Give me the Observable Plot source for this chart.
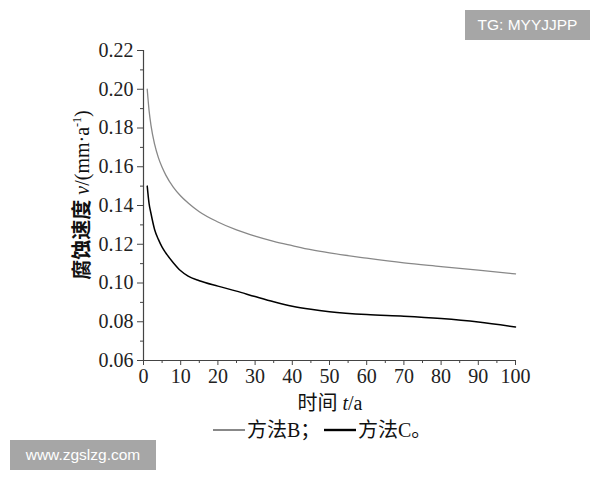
<!DOCTYPE html>
<html><head><meta charset="utf-8">
<script src="https://cdn.jsdelivr.net/npm/d3@7"></script>
<script src="https://cdn.jsdelivr.net/npm/@observablehq/plot@0.6"></script>
<style>
body{margin:0;background:#fff;}
#wrap{position:relative;width:600px;height:480px;overflow:hidden;}
.wm{position:absolute;background:#a6a6a6;color:#fff;font-family:"Liberation Sans",Arial,sans-serif;font-size:15.5px;display:flex;align-items:center;justify-content:center;}
#legend{position:absolute;left:0;top:416px;width:600px;height:28px;}
</style></head>
<body><div id="wrap"><div id="chart"></div>
<svg id="legend" width="600" height="28"></svg>
<div class="wm" style="left:465px;top:10px;width:125px;height:30px;">TG: MYYJJPP</div>
<div class="wm" style="left:10px;top:440px;width:146px;height:30px;">www.zgslzg.com</div>
</div>
<script>
const years   = [1, 1.5, 2, 3, 4, 5, 6, 8, 10, 12, 15, 20, 25, 30, 35, 40, 45, 50, 60, 70, 80, 90, 100];
const methodB = [0.200, 0.189, 0.1815, 0.1715, 0.1647, 0.1597, 0.1557, 0.1495, 0.1449, 0.1413, 0.1368, 0.1315, 0.1274, 0.1242, 0.1215, 0.1193, 0.1172, 0.1155, 0.1128, 0.1104, 0.1085, 0.1066, 0.1047];
const methodC = [0.150, 0.141, 0.136, 0.1275, 0.1225, 0.1185, 0.1155, 0.1105, 0.1063, 0.1035, 0.1012, 0.0984, 0.0958, 0.0930, 0.0903, 0.0880, 0.0864, 0.0852, 0.0837, 0.0829, 0.0817, 0.0799, 0.0773];
const xTicks = [0, 10, 20, 30, 40, 50, 60, 70, 80, 90, 100];
const xMinor = [5, 15, 25, 35, 45, 55, 65, 75, 85, 95];
const yTicks = [0.06, 0.08, 0.10, 0.12, 0.14, 0.16, 0.18, 0.20, 0.22];
const yMinor = [0.07, 0.09, 0.11, 0.13, 0.15, 0.17, 0.19, 0.21];
const seriesNames = ["方法B；", "方法C。"];
const seriesColors = ["#888888", "#000000"];

const table = years.map((t, i) => ({t, b: methodB[i], c: methodC[i]}));
const axisColor = "#444";
const serif = "'Liberation Serif', 'Times New Roman', serif";

const plot = Plot.plot({
  width: 600,
  height: 416,
  marginLeft: 143,
  marginRight: 85,
  marginTop: 50,
  marginBottom: 56,
  style: {fontFamily: serif, fontSize: "20px", color: "#222", background: "#fff"},
  x: {domain: [0, 100]},
  y: {domain: [0.06, 0.22]},
  marks: [
    Plot.axisX(xTicks, {tickSize: 5, tickPadding: 3, fontSize: 20, stroke: axisColor, label: null}),
    Plot.axisX(xMinor, {tickSize: 3, tickFormat: () => "", stroke: axisColor, label: null}),
    Plot.axisY(yTicks, {tickSize: 6, tickPadding: 4, fontSize: 20, tickFormat: d3.format(".2f"), stroke: axisColor, label: null}),
    Plot.axisY(yMinor, {tickSize: 3, tickFormat: () => "", stroke: axisColor, label: null}),
    Plot.ruleX([0], {stroke: axisColor, strokeWidth: 1.2}),
    Plot.ruleY([0.06], {stroke: axisColor, strokeWidth: 1.2}),
    Plot.line(table, {x: "t", y: "b", curve: "monotone-x", stroke: seriesColors[0], strokeWidth: 1.3}),
    Plot.line(table, {x: "t", y: "c", curve: "monotone-x", stroke: seriesColors[1], strokeWidth: 1.5})
  ]
});
document.getElementById("chart").appendChild(plot);

const svg = d3.select(plot);
svg.selectAll("text").attr("font-family", serif);
const cjk = "'Liberation Serif', 'Noto Sans CJK SC', serif";
// y label
const yl = svg.append("text")
  .attr("transform", "translate(89,195) rotate(-90)")
  .attr("text-anchor", "middle")
  .attr("font-family", cjk)
  .attr("font-size", 20)
  .attr("fill", "#111");
yl.append("tspan").attr("font-weight", "bold").text("腐蚀速度 ");
yl.append("tspan").attr("font-style", "italic").text("v");
yl.append("tspan").text("/(mm·a");
yl.append("tspan").attr("font-size", 12).attr("dy", -8).text("-1");
yl.append("tspan").attr("dy", 8).text(")");
// x label
const xl = svg.append("text")
  .attr("x", 330).attr("y", 410)
  .attr("text-anchor", "middle")
  .attr("font-family", cjk)
  .attr("font-size", 20)
  .attr("fill", "#111");
xl.append("tspan").text("时间 ");
xl.append("tspan").attr("font-style", "italic").text("t");
xl.append("tspan").text("/a");

// legend
const lg = d3.select("#legend");
const items = [{x: 213, w: 32}, {x: 324, w: 32}];
items.forEach((it, i) => {
  lg.append("line").attr("x1", it.x).attr("x2", it.x + it.w).attr("y1", 14).attr("y2", 14)
    .attr("stroke", seriesColors[i]).attr("stroke-width", i ? 2.4 : 2);
  lg.append("text").attr("x", it.x + it.w + 2).attr("y", 21)
    .attr("font-family", cjk).attr("font-size", 20).attr("fill", "#111")
    .text(seriesNames[i]);
});
</script>
</body></html>
